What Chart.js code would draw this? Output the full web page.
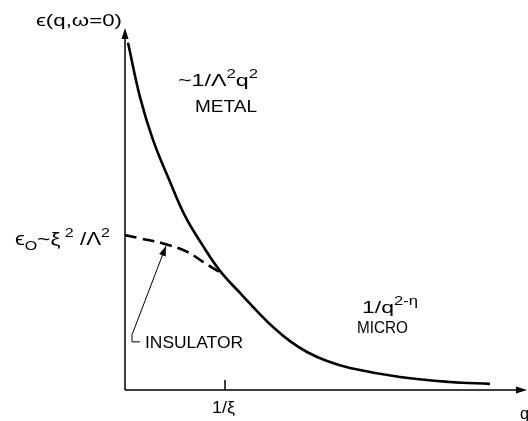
<!DOCTYPE html>
<html>
<head>
<meta charset="utf-8">
<script src="https://cdn.jsdelivr.net/npm/chart.js@4.4.1/dist/chart.umd.min.js"></script>
<style>
  html, body { margin: 0; padding: 0; background: #fff; }
  canvas { display: block; }
</style>
</head>
<body>
<canvas id="chart" width="528" height="421"></canvas>
<script>
// metal curve ~1/Λ²q² falling into the 1/q^(2-η) tail (q in units of 1/ξ)
const metalQ = [0.03, 0.15, 0.28, 0.45, 0.60, 0.78, 0.95, 1.15, 1.32, 1.48, 1.65, 1.82, 2.02, 2.25, 2.75, 3.25, 3.65];
const metalEps = [9.59, 8.09, 6.91, 5.75, 4.81, 3.98, 3.29, 2.68, 2.18, 1.74, 1.35, 1.05, 0.80, 0.61, 0.36, 0.22, 0.17];

// insulator branch, saturates at ε0 for q -> 0
const insulatorQ = [0, 0.15, 0.38, 0.62, 0.78, 0.98];
const insulatorEps = [4.28, 4.19, 4.05, 3.82, 3.54, 3.2];

const xTicks = [1];
const xTickLabels = ["1/ξ"];

const FONT = "'Liberation Sans', 'DejaVu Sans', sans-serif";

function pts(xs, ys) {
    return xs.map((x, i) => ({ x, y: ys[i] }));
}

// text with super/subscripts, squeezed to a target width
function drawRich(ctx, x, y, parts, size, width) {
    let natural = 0;
    parts.forEach(p => {
        ctx.font = `${p.s ? size * 0.72 : size}px ${FONT}`;
        natural += ctx.measureText(p.t).width;
    });
    ctx.save();
    ctx.translate(x, y);
    ctx.scale(width / natural, 1);
    let cx = 0;
    parts.forEach(p => {
        ctx.font = `${p.s ? size * 0.72 : size}px ${FONT}`;
        const dy = p.s === "sup" ? -size * 0.45 : p.s === "sub" ? size * 0.25 : 0;
        ctx.fillText(p.t, cx, dy);
        cx += ctx.measureText(p.t).width;
    });
    ctx.restore();
}

function arrowHead(ctx, x, y, ang, len, half) {
    ctx.save();
    ctx.translate(x, y);
    ctx.rotate(ang);
    ctx.beginPath();
    ctx.moveTo(0, 0);
    ctx.lineTo(-len, -half);
    ctx.lineTo(-len, half);
    ctx.closePath();
    ctx.fill();
    ctx.restore();
}

const sketchAxes = {
    id: "sketchAxes",
    afterDatasetsDraw(chart) {
        const { ctx, chartArea: a, scales: { x, y } } = chart;
        ctx.save();
        ctx.strokeStyle = "#000";
        ctx.fillStyle = "#000";
        ctx.lineWidth = 1.5;

        // axes with arrows
        ctx.beginPath();
        ctx.moveTo(a.left, a.bottom);
        ctx.lineTo(a.left, a.top + 6);
        ctx.moveTo(a.left, a.bottom);
        ctx.lineTo(527 - 6, a.bottom);
        ctx.stroke();
        arrowHead(ctx, a.left, a.top, -Math.PI / 2, 11, 3.5);
        arrowHead(ctx, 527, a.bottom, 0, 11, 3.5);

        // inward tick + label
        ctx.textBaseline = "alphabetic";
        xTicks.forEach((v, i) => {
            const px = x.getPixelForValue(v);
            ctx.beginPath();
            ctx.moveTo(px, a.bottom);
            ctx.lineTo(px, a.bottom - 10);
            ctx.stroke();
            drawRich(ctx, px - 13, 413, [{ t: xTickLabels[i] }], 17, 23);
        });

        // pointer to the insulator branch
        const cx = x.getPixelForValue(0.07), cy = y.getPixelForValue(1.33);
        const tx = x.getPixelForValue(0.41), ty = y.getPixelForValue(3.98);
        ctx.lineWidth = 1;
        ctx.beginPath();
        ctx.moveTo(x.getPixelForValue(0.15), cy);
        ctx.lineTo(cx, cy);
        ctx.lineTo(cx, cy - 7);
        ctx.lineTo(tx, ty);
        ctx.stroke();
        arrowHead(ctx, tx, ty, Math.atan2(ty - (cy - 7), tx - cx), 10, 3.5);

        // labels
        drawRich(ctx, 36, 26, [{ t: "ϵ(q,ω=0)" }], 17, 86);
        drawRich(ctx, 178, 86, [{ t: "~1/Λ" }, { t: "2", s: "sup" }, { t: "q" }, { t: "2", s: "sup" }], 17, 80);
        drawRich(ctx, 195, 112, [{ t: "METAL" }], 17, 62);
        drawRich(ctx, 15, 245, [{ t: "ϵ" }, { t: "O", s: "sub" }, { t: "~ξ" }, { t: " 2", s: "sup" }, { t: " /Λ" }, { t: "2", s: "sup" }], 18, 95);
        drawRich(ctx, 145, 348, [{ t: "INSULATOR" }], 17, 98);
        drawRich(ctx, 362, 313, [{ t: "1/q" }, { t: "2-η", s: "sup" }], 17, 56);
        drawRich(ctx, 357, 333, [{ t: "MICRO" }], 17, 51);
        drawRich(ctx, 520, 419, [{ t: "q" }], 17, 9);
        ctx.restore();
    },
};

new Chart(document.getElementById("chart"), {
    type: "line",
    data: {
        datasets: [
            {
                label: "metal",
                data: pts(metalQ, metalEps),
                borderColor: "#000",
                borderWidth: 2.6,
                pointRadius: 0,
                tension: 0.4,
            },
            {
                label: "insulator",
                data: pts(insulatorQ, insulatorEps),
                borderColor: "#000",
                borderWidth: 2.6,
                borderDash: [12, 6],
                pointRadius: 0,
                tension: 0.4,
            },
        ],
    },
    options: {
        responsive: false,
        animation: false,
        devicePixelRatio: 1,
        layout: { padding: { left: 125, right: 3, top: 28, bottom: 31 } },
        plugins: { legend: { display: false }, tooltip: { enabled: false } },
        scales: {
            x: { type: "linear", min: 0, max: 4, display: false },
            y: { type: "linear", min: 0, max: 10, display: false },
        },
    },
    plugins: [sketchAxes],
});
</script>
</body>
</html>
